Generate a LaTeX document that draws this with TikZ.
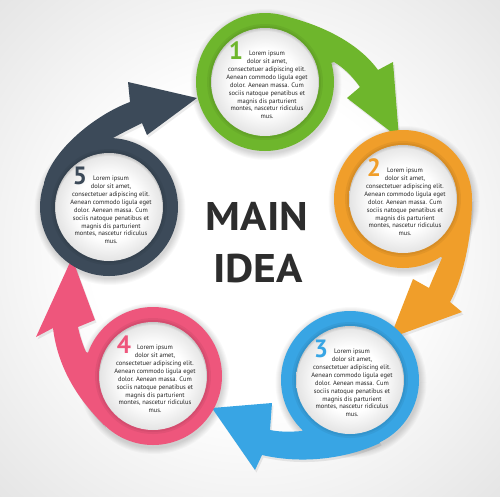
\documentclass[tikz,border=0pt]{standalone}
\usepackage{fontspec}
\setmainfont{PT Sans}
\definecolor{cgreen}{RGB}{110,182,44}
\definecolor{corange}{RGB}{240,158,42}
\definecolor{cblue}{RGB}{56,165,228}
\definecolor{cpink}{RGB}{238,86,124}
\definecolor{cdark}{RGB}{60,74,89}
\definecolor{bggray}{RGB}{210,210,210}
\definecolor{discgray}{RGB}{228,228,228}
\definecolor{txtgray}{RGB}{35,35,35}
\definecolor{maingray}{RGB}{45,45,45}
\pgfdeclareradialshading{bgshade}{\pgfpoint{0bp}{0bp}}{color(0bp)=(white); color(16bp)=(white); color(50bp)=(bggray); color(75bp)=(bggray)}
\pgfdeclareradialshading{discshade}{\pgfpoint{0bp}{0bp}}{color(0bp)=(white); color(15bp)=(white); color(25bp)=(discgray); color(50bp)=(discgray)}
\begin{document}
\begin{tikzpicture}[x=1pt,y=-1pt,
  ringnode/.style={circle, minimum size=138pt, inner sep=0pt, outer sep=0pt, fill=#1},
  bodytext/.style={text=txtgray, font=\fontsize{6.5}{7.9}\selectfont, align=center, inner sep=0pt},
  numtext/.style={text=#1, font=\fontsize{25}{25}\selectfont\bfseries, inner sep=0pt},
  arrowshape/.style={fill=#1, preaction={fill=black, opacity=0.08, transform canvas={xshift=1.5pt, yshift=-2.5pt}}},
  maintext/.style={text=maingray, font=\fontsize{40}{40}\selectfont\bfseries, inner sep=0pt, anchor=base}
]
\useasboundingbox (0,0) rectangle (500,496);
\shade[shading=bgshade] (0,0) rectangle (500,496);

\coordinate (p1) at (265,82);
\coordinate (p2) at (403,199);
\coordinate (p3) at (350,380);
\coordinate (p4) at (153,376);
\coordinate (p5) at (109,207);

% soft drop shadows of the circles
\foreach \i in {1,...,5}{
  \foreach \r in {69.5,70.5,71.5,72.5,73.5,74.5,75.5}{
    \fill[black, opacity=0.022] ([shift={(1pt,-2.5pt)}]p\i) circle[radius=\r pt];
  }
}

% curved arrows
\fill[arrowshape=cgreen] (280,15) .. controls (325,25) and (360,45) .. (378,70)
  -- (393,62) -- (399,138) -- (347,98) -- (360,87)
  .. controls (352,76) and (344,68) .. (334,62) -- (p1) -- cycle;
\fill[arrowshape=corange] (472,199) .. controls (472,240) and (462,280) .. (450,302)
  -- (462,312) -- (390,338) -- (413,279) -- (429,288)
  .. controls (433,278) and (438,267) .. (442,258) -- (p2) -- cycle;
\fill[arrowshape=cblue] (380,443) .. controls (355,455) and (310,466) .. (262,455)
  -- (255,470) -- (212,408) -- (272,403) -- (270,430)
  .. controls (280,432) and (290,432) .. (302,431) -- (p3) -- cycle;
\fill[arrowshape=cpink] (104,425) .. controls (80,401) and (58,370) .. (53,328)
  -- (36,337) -- (72,258) -- (95,320) -- (78,327)
  .. controls (80,337) and (83,345) .. (86,352) -- (p4) -- cycle;
\fill[arrowshape=cdark] (44,183) .. controls (52,150) and (95,115) .. (130,102)
  -- (128,82) -- (197,98) -- (147,135) -- (142,123)
  .. controls (132,128) and (122,133) .. (113,138) -- (p5) -- cycle;

% rings with white discs
\foreach \i/\col in {1/cgreen,2/corange,3/cblue,4/cpink,5/cdark}{
  \node[ringnode=\col] (c\i) at (p\i) {};
  \draw[black, opacity=0.05, line width=4pt] (c\i.center) circle[radius=56pt];
  \draw[black, opacity=0.05, line width=2pt] (c\i.center) circle[radius=55pt];
  \shade[shading=discshade] (c\i.center) circle[radius=54pt];
  \foreach \k in {0.5,1.5,2.5}{
    \begin{scope}
      \clip (c\i.center) circle[radius=54pt];
      \draw[black, opacity=0.04, line width=3pt] ([shift={(0pt,-\k pt)}]c\i.center) circle[radius=55pt];
    \end{scope}
  }
  \node[bodytext] (t\i) at ([shift={(2pt,-3pt)}]c\i.center)
    {Lorem ipsum\\dolor sit amet,\\consectetuer adipiscing elit.\\Aenean commodo ligula eget\\dolor. Aenean massa. Cum\\sociis natoque penatibus et\\magnis dis parturient\\montes, nascetur ridiculus\\mus.};
  \node[numtext=\col] (n\i) at ([shift={(-29pt,31pt)}]c\i.center) {\i};
}

\node[maintext] (main1) at (257,230) {\scalebox{1.09}[1]{MAIN}};
\node[maintext] (main2) at (258,282) {\scalebox{1.09}[1]{IDEA}};
\end{tikzpicture}
\end{document}
